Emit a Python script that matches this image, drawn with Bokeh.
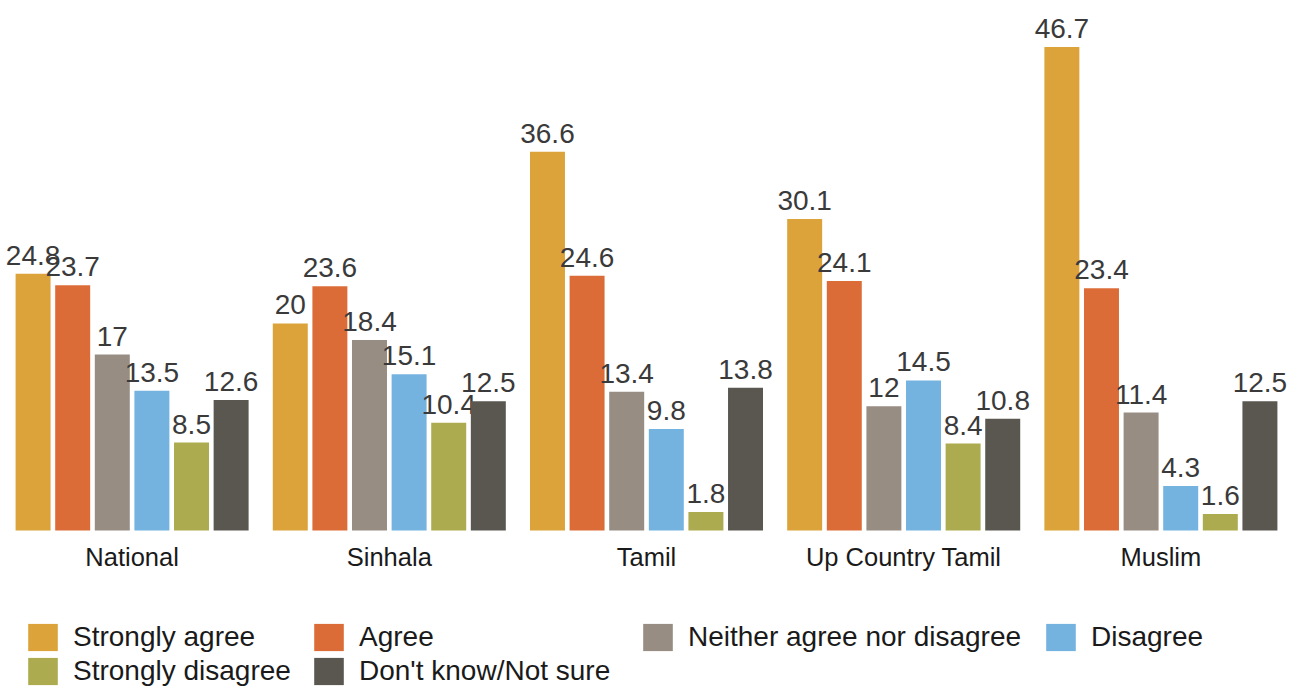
from bokeh.plotting import figure
from bokeh.models import ColumnDataSource, FactorRange, Range1d, Legend, LegendItem
from bokeh.transform import dodge
from bokeh.core.properties import value
from bokeh.embed import file_html
from bokeh.resources import INLINE

groups = ["National", "Sinhala", "Tamil", "Up Country Tamil", "Muslim"]
series = ["Strongly agree", "Agree", "Neither agree nor disagree", "Disagree",
          "Strongly disagree", "Don't know/Not sure"]
strongly_agree = [24.8, 20, 36.6, 30.1, 46.7]
agree = [23.7, 23.6, 24.6, 24.1, 23.4]
neither = [17, 18.4, 13.4, 12, 11.4]
disagree = [13.5, 15.1, 9.8, 14.5, 4.3]
strongly_disagree = [8.5, 10.4, 1.8, 8.4, 1.6]
dont_know = [12.6, 12.5, 13.8, 10.8, 12.5]
colors = ["#DBA339", "#DC6C37", "#978D83", "#74B3E0", "#ACAB4F", "#5A5750"]

values = [strongly_agree, agree, neither, disagree, strongly_disagree, dont_know]
labels_fmt = lambda v: ("%g" % v)

# legend columns (indices into series)
legend_columns = [[0, 4], [1, 5], [2], [3]]

FONT = "Liberation Sans"

p = figure(width=1294, height=688, x_range=FactorRange(*groups), y_range=Range1d(-15.26, 51.2),
           output_backend="svg", toolbar_location=None, y_axis_location=None,
           min_border_left=3, min_border_right=5, min_border_top=0, min_border_bottom=0,
           outline_line_color=None)
p.xgrid.visible = False
p.ygrid.visible = False
p.background_fill_color = "white"

pitch = 0.154
bw = 0.136
renderers = []
for i, (name, vals, col) in enumerate(zip(series, values, colors)):
    off = (i - 2.5) * pitch
    src = ColumnDataSource(dict(g=groups, v=vals, t=[labels_fmt(v) for v in vals]))
    r = p.vbar(x=dodge("g", off, range=p.x_range), top="v", width=bw, source=src,
               fill_color=col, line_color=None)
    renderers.append(r)
    p.text(x=dodge("g", off, range=p.x_range), y="v", text="t", source=src,
           text_align="center", text_baseline="bottom", y_offset=-9,
           text_font=value(FONT), text_font_size="28px", text_color="#3a3a3a")

ax = p.xaxis[0]
ax.fixed_location = 0
ax.axis_line_color = None
ax.major_tick_line_color = None
ax.minor_tick_line_color = None
ax.major_tick_out = 0
ax.major_label_standoff = 12
ax.major_label_text_font = FONT
ax.major_label_text_font_size = "25.5px"
ax.major_label_text_color = "#1a1a1a"

col_x = [21, 307, 636, 1039]
for cx, idxs in zip(col_x, legend_columns):
    items = [LegendItem(label=series[k], renderers=[renderers[k]]) for k in idxs]
    lg = Legend(items=items, location=(cx, 68 - 34 * len(idxs)), orientation="vertical",
                padding=0, margin=0, border_line_color=None, background_fill_alpha=0,
                glyph_width=37, glyph_height=34, label_standoff=12, spacing=0,
                label_text_font=FONT, label_text_font_size="28px", label_text_color="#1a1a1a",
                label_height=30)
    p.add_layout(lg, "center")

open("out.html", "w").write(file_html(p, INLINE))
